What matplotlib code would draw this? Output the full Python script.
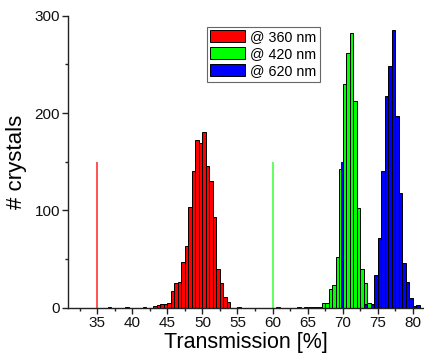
import numpy as np
import matplotlib
matplotlib.use("Agg")
import matplotlib.pyplot as plt
from matplotlib.ticker import MultipleLocator

plt.rcParams['font.family'] = ['Liberation Sans', 'DejaVu Sans']

# histogram data: left bin edges (0.5 % wide bins) and counts
red_edges = [36.5, 39.0, 41.5, 43.0, 43.5, 44.0, 44.5, 45.0, 45.5, 46.0, 46.5,
             47.0, 47.5, 48.0, 48.5, 49.0, 49.5, 50.0, 50.5, 51.0, 51.5, 52.0,
             52.5, 53.0, 53.5, 55.0]
red_counts = [1, 1, 1, 2, 3, 4, 4, 5, 17, 25, 26,
              47, 63, 104, 141, 172, 169, 181, 146, 130, 93, 40,
              25, 11, 6, 1]

green_edges = [60.5, 63.5, 64.5, 65.0, 65.5, 66.0, 66.5, 67.0, 67.5, 68.0, 68.5,
               69.0, 69.5, 70.0, 70.5, 71.0, 71.5, 72.0, 72.5, 73.0, 73.5]
green_counts = [1, 1, 1, 1, 1, 1, 1, 5, 5, 19, 23,
                52, 143, 230, 262, 282, 212, 103, 40, 25, 5]

blue_edges = [73.0, 74.0, 74.5, 75.0, 75.5, 76.0, 76.5, 77.0, 77.5, 78.0, 78.5,
              79.0, 79.5, 80.0, 80.5]
blue_counts = [4, 4, 34, 72, 141, 218, 248, 285, 197, 118, 46,
               26, 10, 2, 3]
# odd single blue bar sitting inside the green peak
blue_stray_edge = [69.8]
blue_stray_count = [150]

ref_x = [35, 60]
ref_height = 150
labels = ['@ 360 nm', '@ 420 nm', '@ 620 nm']

fig = plt.figure(figsize=(4.24, 3.6), dpi=100)
ax = fig.add_axes([0.161, 0.145, 0.837, 0.811])

ax.vlines(ref_x[0], 0, ref_height, color='#ff3333', lw=1.2, zorder=1)
ax.vlines(ref_x[1], 0, ref_height, color='#44ff44', lw=1.2, zorder=1)

bw = 0.5
kw = dict(align='edge', edgecolor='black', linewidth=0.7)
hr = ax.bar(red_edges, red_counts, width=bw, color='#ff0000', zorder=2, **kw)
hg = ax.bar(green_edges, green_counts, width=bw, color='#00ff00', zorder=2, **kw)
hb = ax.bar(blue_edges, blue_counts, width=bw, color='#0000ff', zorder=3, **kw)
ax.bar(blue_stray_edge, blue_stray_count, width=0.28, align='edge',
       color='#0000ff', edgecolor='none', zorder=3)

ax.set_xlim(30.85, 81.5)
ax.set_ylim(0, 300)
ax.xaxis.set_major_locator(MultipleLocator(5))
ax.xaxis.set_minor_locator(MultipleLocator(2.5))
ax.yaxis.set_major_locator(MultipleLocator(100))
ax.yaxis.set_minor_locator(MultipleLocator(50))
ax.set_xticks(np.arange(35, 81, 5))

for s in ['top', 'right']:
    ax.spines[s].set_visible(False)
for s in ['left', 'bottom']:
    ax.spines[s].set_linewidth(1.0)
    ax.spines[s].set_color('#222222')
ax.tick_params(which='major', direction='out', length=4, width=1.0,
               labelsize=11, pad=2, colors='#222222', labelcolor='#111111')
ax.tick_params(which='minor', direction='out', length=2.5, width=1.0, colors='#222222')

ax.set_xlabel('Transmission [%]', fontsize=15.5, labelpad=1)
ax.set_ylabel('# crystals', fontsize=16, labelpad=5)

leg = ax.legend([hr, hg, hb], labels, loc='upper left',
                bbox_to_anchor=(0.4875, 0.926), bbox_transform=fig.transFigure,
                fontsize=10.3, fancybox=False, framealpha=1, edgecolor='#666666',
                handlelength=2.4, handleheight=0.9, labelspacing=0.2,
                handletextpad=0.4, borderpad=0.25, borderaxespad=0)
leg.get_frame().set_linewidth(0.8)

fig.savefig('out.png', dpi=100)
